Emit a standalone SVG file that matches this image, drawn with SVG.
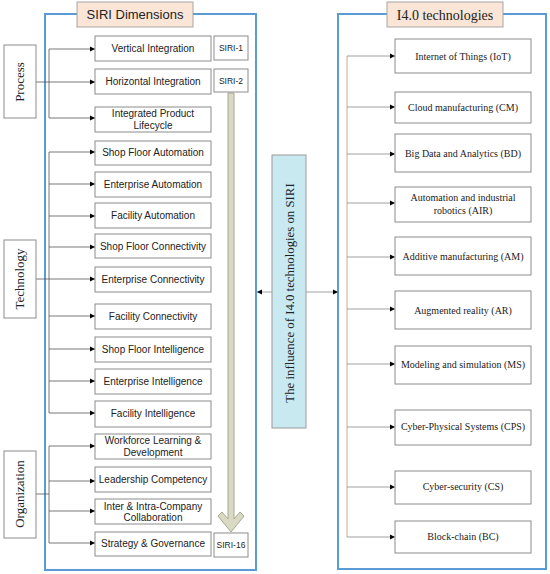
<svg xmlns="http://www.w3.org/2000/svg" width="550" height="574" viewBox="0 0 550 574">
<defs>
<marker id="ah" markerWidth="6" markerHeight="6" refX="5" refY="3" orient="auto" markerUnits="userSpaceOnUse">
<path d="M0,0.5 L5,3 L0,5.5 z" fill="#000"/>
</marker>
<style>
.frame{fill:#fff;stroke:#5b9bd5;stroke-width:2}
.hdr{fill:#fbe5d6;stroke:#a6a6a6;stroke-width:1}
.box{fill:#fff;stroke:#8c8c8c;stroke-width:1}
.side{fill:#fff;stroke:#8c8c8c;stroke-width:1}
.sans{font-family:"Liberation Sans",Arial,sans-serif;font-size:10px;fill:#222;text-anchor:middle}
.serif{font-family:"Liberation Serif","Times New Roman",serif;font-size:10px;fill:#222;text-anchor:middle}
.conn{fill:none;stroke:#555;stroke-width:0.8}
.connr{fill:none;stroke:#888;stroke-width:0.8}
.trunkr{fill:none;stroke:#d0a890;stroke-width:1}
</style>
</defs>
<rect width="550" height="574" fill="#fff"/>

<!-- frames -->
<rect class="frame" x="45" y="14" width="211" height="556"/>
<rect class="frame" x="338" y="14" width="208" height="555"/>

<g id="hdr-siri"><rect class="hdr" x="77" y="2" width="116" height="25"/><text class="sans" x="135" y="19" style="font-size:13px">SIRI Dimensions</text></g>
<g id="hdr-i40"><rect class="hdr" x="387" y="2" width="116" height="25"/><text class="serif" x="445" y="20" style="font-size:14px">I4.0 technologies</text></g>

<!-- connectors -->
<g id="connectors">
<path class="conn" d="M36,82 H49 M49,49 V118"/>
<path class="conn" d="M49,49 H95" marker-end="url(#ah)"/>
<path class="conn" d="M49,82 H95" marker-end="url(#ah)"/>
<path class="conn" d="M49,118 H95" marker-end="url(#ah)"/>

<path class="conn" d="M36,279 H49 M49,152 V413"/>
<path class="conn" d="M49,152 H95" marker-end="url(#ah)"/>
<path class="conn" d="M49,184 H95" marker-end="url(#ah)"/>
<path class="conn" d="M49,216 H95" marker-end="url(#ah)"/>
<path class="conn" d="M49,247 H95" marker-end="url(#ah)"/>
<path class="conn" d="M49,279 H95" marker-end="url(#ah)"/>
<path class="conn" d="M49,316 H95" marker-end="url(#ah)"/>
<path class="conn" d="M49,349 H95" marker-end="url(#ah)"/>
<path class="conn" d="M49,381 H95" marker-end="url(#ah)"/>
<path class="conn" d="M49,413 H95" marker-end="url(#ah)"/>

<path class="conn" d="M36,494 H49 M49,446 V543"/>
<path class="conn" d="M49,446 H95" marker-end="url(#ah)"/>
<path class="conn" d="M49,481 H95" marker-end="url(#ah)"/>
<path class="conn" d="M49,511 H95" marker-end="url(#ah)"/>
<path class="conn" d="M49,543 H95" marker-end="url(#ah)"/>

<path class="trunkr" d="M347,56 V537"/>
<path class="connr" d="M347,56 H395" marker-end="url(#ah)"/>
<path class="connr" d="M347,107 H395" marker-end="url(#ah)"/>
<path class="connr" d="M347,154 H395" marker-end="url(#ah)"/>
<path class="connr" d="M347,203 H395" marker-end="url(#ah)"/>
<path class="connr" d="M347,257 H395" marker-end="url(#ah)"/>
<path class="connr" d="M347,309 H395" marker-end="url(#ah)"/>
<path class="connr" d="M347,364 H395" marker-end="url(#ah)"/>
<path class="connr" d="M347,427 H395" marker-end="url(#ah)"/>
<path class="connr" d="M347,487 H395" marker-end="url(#ah)"/>
<path class="connr" d="M347,537 H395" marker-end="url(#ah)"/>

<path class="connr" d="M272,292 H257" marker-end="url(#ah)"/>
<path class="connr" d="M306,292 H338" marker-end="url(#ah)"/>

<polygon points="228,93 234,93 234,519 240,512 244,516 231,532 218,516 222,512 228,519" fill="#d9d9c4" stroke="#a8a890" stroke-width="1"/>
</g>

<!-- side labels -->
<g id="process"><rect class="side" x="4" y="45" width="32" height="73"/><text class="serif" style="font-size:13px" transform="translate(24,82) rotate(-90)">Process</text></g>
<g id="technology"><rect class="side" x="4" y="240" width="32" height="78"/><text class="serif" style="font-size:13px" transform="translate(24,279) rotate(-90)">Technology</text></g>
<g id="organization"><rect class="side" x="4" y="451" width="32" height="87"/><text class="serif" style="font-size:13px" transform="translate(24,494) rotate(-90)">Organization</text></g>

<!-- SIRI boxes -->
<g id="n-vi"><rect class="box" x="95" y="36" width="116" height="25"/><text class="sans" x="153" y="52">Vertical Integration</text></g>
<g id="n-hi"><rect class="box" x="95" y="69" width="116" height="25"/><text class="sans" x="153" y="85">Horizontal Integration</text></g>
<g id="n-ipl"><rect class="box" x="95" y="107" width="116" height="25"/><text class="sans" x="153" y="117">Integrated Product</text><text class="sans" x="153" y="129">Lifecycle</text></g>
<g id="n-sfa"><rect class="box" x="95" y="141" width="116" height="24"/><text class="sans" x="153" y="156">Shop Floor Automation</text></g>
<g id="n-ea"><rect class="box" x="95" y="172" width="116" height="25"/><text class="sans" x="153" y="188">Enterprise Automation</text></g>
<g id="n-fa"><rect class="box" x="95" y="203" width="116" height="25"/><text class="sans" x="153" y="219">Facility Automation</text></g>
<g id="n-sfc"><rect class="box" x="95" y="234" width="116" height="24"/><text class="sans" x="153" y="250">Shop Floor Connectivity</text></g>
<g id="n-ec"><rect class="box" x="95" y="267" width="116" height="25"/><text class="sans" x="153" y="283">Enterprise Connectivity</text></g>
<g id="n-fc"><rect class="box" x="95" y="304" width="116" height="25"/><text class="sans" x="153" y="320">Facility Connectivity</text></g>
<g id="n-sfi"><rect class="box" x="95" y="337" width="116" height="25"/><text class="sans" x="153" y="353">Shop Floor Intelligence</text></g>
<g id="n-ei"><rect class="box" x="95" y="369" width="116" height="25"/><text class="sans" x="153" y="385">Enterprise Intelligence</text></g>
<g id="n-fi"><rect class="box" x="95" y="401" width="116" height="26"/><text class="sans" x="153" y="417">Facility Intelligence</text></g>
<g id="n-wld"><rect class="box" x="95" y="434" width="116" height="25"/><text class="sans" x="153" y="444">Workforce Learning &amp;</text><text class="sans" x="153" y="456">Development</text></g>
<g id="n-lc"><rect class="box" x="95" y="467" width="116" height="25"/><text class="sans" x="153" y="483">Leadership Competency</text></g>
<g id="n-iicc"><rect class="box" x="95" y="499" width="116" height="25"/><text class="sans" x="153" y="510">Inter &amp; Intra-Company</text><text class="sans" x="153" y="521">Collaboration</text></g>
<g id="n-sg"><rect class="box" x="95" y="532" width="116" height="24"/><text class="sans" x="153" y="547">Strategy &amp; Governance</text></g>

<g id="siri1"><rect class="box" x="214" y="36" width="34" height="24"/><text class="sans" x="231" y="51" style="font-size:8.5px">SIRI-1</text></g>
<g id="siri2"><rect class="box" x="214" y="69" width="34" height="23"/><text class="sans" x="231" y="84" style="font-size:8.5px">SIRI-2</text></g>
<g id="siri16"><rect class="box" x="214" y="533" width="34" height="24"/><text class="sans" x="231" y="548" style="font-size:8.5px">SIRI-16</text></g>

<!-- center -->
<g id="influence"><rect x="272" y="155" width="34" height="273" fill="#c9e9f1" stroke="#9a9a9a" stroke-width="1"/><text class="serif" style="font-size:12.8px" transform="translate(294,293) rotate(-90)">The influence of  I4.0 technologies on SIRI</text></g>

<!-- I4.0 boxes -->
<g id="t-iot"><rect class="box" x="395" y="39" width="136" height="34"/><text class="serif" x="463" y="60">Internet of Things (IoT)</text></g>
<g id="t-cm"><rect class="box" x="395" y="92" width="136" height="31"/><text class="serif" x="463" y="111">Cloud manufacturing (CM)</text></g>
<g id="t-bd"><rect class="box" x="395" y="134" width="136" height="38"/><text class="serif" x="463" y="157">Big Data and Analytics (BD)</text></g>
<g id="t-air"><rect class="box" x="395" y="187" width="136" height="35"/><text class="serif" x="463" y="201">Automation and industrial</text><text class="serif" x="463" y="214">robotics (AIR)</text></g>
<g id="t-am"><rect class="box" x="395" y="237" width="136" height="38"/><text class="serif" x="463" y="260">Additive manufacturing (AM)</text></g>
<g id="t-ar"><rect class="box" x="395" y="291" width="136" height="38"/><text class="serif" x="463" y="314">Augmented reality (AR)</text></g>
<g id="t-ms"><rect class="box" x="395" y="346" width="136" height="38"/><text class="serif" x="463" y="368">Modeling and simulation (MS)</text></g>
<g id="t-cps"><rect class="box" x="395" y="410" width="136" height="35"/><text class="serif" x="463" y="430">Cyber-Physical Systems (CPS)</text></g>
<g id="t-cs"><rect class="box" x="395" y="471" width="136" height="33"/><text class="serif" x="463" y="490">Cyber-security (CS)</text></g>
<g id="t-bc"><rect class="box" x="395" y="521" width="136" height="32"/><text class="serif" x="463" y="540">Block-chain (BC)</text></g>
</svg>
